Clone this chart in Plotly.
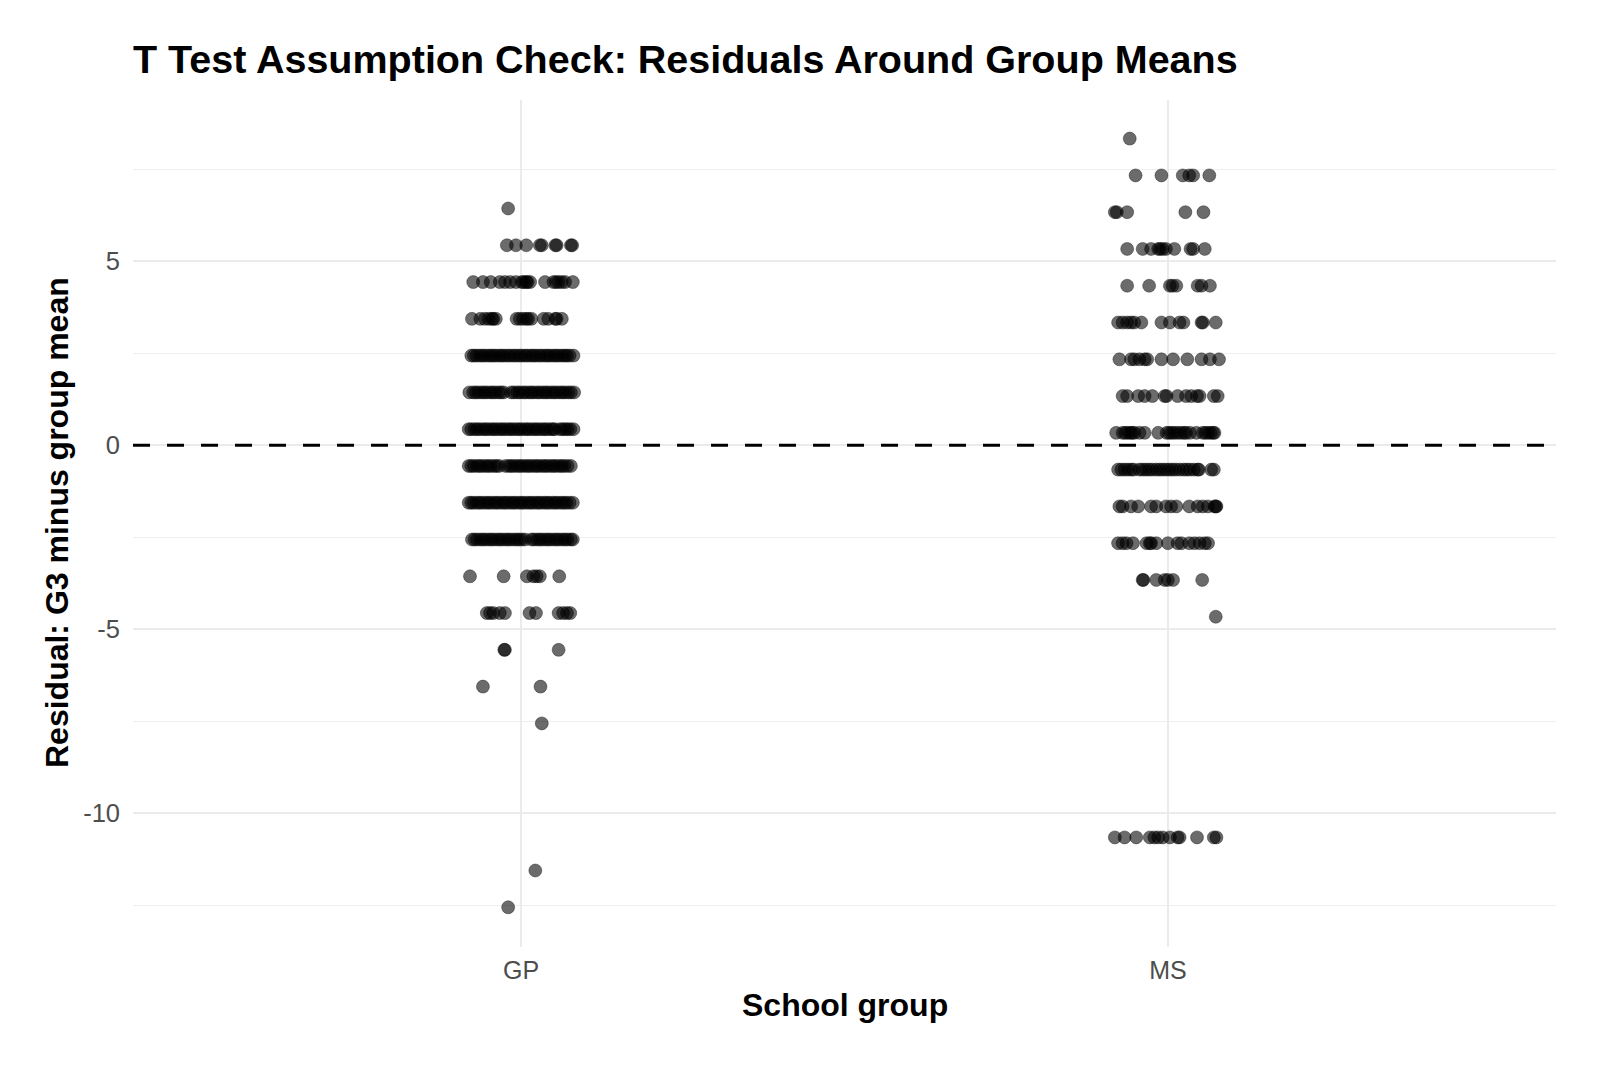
import plotly.graph_objects as go

# ---------------- data ----------------
groups = ["GP", "MS"]
group_pos = [1, 2]

# residual levels (G3 minus group mean) for each group
gp_levels = [6.44, 5.44, 4.44, 3.44, 2.44, 1.44, 0.44, -0.56, -1.56, -2.56,
             -3.56, -4.56, -5.56, -6.56, -7.56, -11.56, -12.56]
# horizontal jitter of each student, per level (category units)
gp_jitter = [
    [-0.020],
    [-0.022, -0.008, 0.008, 0.029, 0.032, 0.053, 0.055, 0.077, 0.079],
    [-0.074, -0.059, -0.047, -0.033, -0.025, -0.017, -0.008, 0.001, 0.004, 0.008,
     0.010, 0.014, 0.037, 0.050, 0.054, 0.058, 0.063, 0.068, 0.080],
    [-0.076, -0.063, -0.056, -0.050, -0.045, -0.043, -0.039, -0.007, -0.002, 0.003,
     0.008, 0.011, 0.016, 0.035, 0.042, 0.053, 0.055, 0.063],
    [-0.077, -0.073, -0.069, -0.064, -0.060, -0.056, -0.051, -0.047, -0.043, -0.039,
     -0.034, -0.030, -0.026, -0.021, -0.017, -0.012, -0.008, -0.003, 0.001, 0.006,
     0.010, 0.015, 0.019, 0.023, 0.028, 0.032, 0.037, 0.041, 0.045, 0.050,
     0.054, 0.058, 0.063, 0.067, 0.071, 0.075, 0.081],
    [-0.080, -0.074, -0.070, -0.066, -0.061, -0.057, -0.053, -0.048, -0.044, -0.040,
     -0.035, -0.031, -0.027, -0.015, -0.011, -0.006, -0.002, 0.003, 0.007, 0.012,
     0.016, 0.020, 0.025, 0.029, 0.034, 0.038, 0.042, 0.047, 0.051, 0.055,
     0.060, 0.064, 0.068, 0.073, 0.077, 0.082],
    [-0.081, -0.077, -0.072, -0.068, -0.064, -0.059, -0.055, -0.051, -0.046, -0.042,
     -0.038, -0.033, -0.029, -0.025, -0.020, -0.016, -0.012, -0.007, -0.003, 0.001,
     0.006, 0.010, 0.014, 0.019, 0.023, 0.027, 0.032, 0.036, 0.040, 0.045,
     0.049, 0.052, 0.060, 0.064, 0.068, 0.072, 0.076, 0.081],
    [-0.081, -0.077, -0.073, -0.068, -0.064, -0.060, -0.055, -0.051, -0.047, -0.042,
     -0.038, -0.034, -0.024, -0.019, -0.015, -0.011, -0.006, -0.002, 0.002, 0.007,
     0.011, 0.015, 0.020, 0.024, 0.028, 0.033, 0.037, 0.041, 0.046, 0.050,
     0.054, 0.059, 0.063, 0.067, 0.072, 0.077],
    [-0.081, -0.077, -0.073, -0.068, -0.064, -0.060, -0.055, -0.051, -0.047, -0.042,
     -0.038, -0.034, -0.029, -0.025, -0.021, -0.016, -0.012, -0.008, -0.003, 0.001,
     0.005, 0.010, 0.014, 0.018, 0.023, 0.027, 0.031, 0.036, 0.040, 0.044,
     0.049, 0.053, 0.057, 0.062, 0.066, 0.070, 0.075, 0.080],
    [-0.076, -0.072, -0.068, -0.063, -0.059, -0.055, -0.050, -0.046, -0.042, -0.037,
     -0.033, -0.029, -0.024, -0.020, -0.016, -0.011, -0.007, -0.003, 0.001, 0.006,
     0.016, 0.020, 0.025, 0.029, 0.033, 0.038, 0.042, 0.046, 0.051, 0.055,
     0.059, 0.064, 0.068, 0.072, 0.077, 0.080],
    [-0.079, -0.027, 0.009, 0.019, 0.024, 0.029, 0.059],
    [-0.053, -0.048, -0.043, -0.033, -0.025, 0.013, 0.023, 0.058, 0.065, 0.071, 0.076],
    [-0.026, -0.025, 0.058],
    [-0.059, 0.030],
    [0.032],
    [0.022],
    [-0.020],
]

ms_levels = [8.34, 7.34, 6.34, 5.34, 4.34, 3.34, 2.34, 1.34, 0.34, -0.66,
             -1.66, -2.66, -3.66, -4.66, -10.66]
ms_jitter = [
    [-0.059],
    [-0.050, -0.010, 0.023, 0.033, 0.039, 0.064],
    [-0.082, -0.079, -0.063, 0.027, 0.055],
    [-0.063, -0.039, -0.026, -0.015, -0.012, -0.008, -0.003, 0.010, 0.035, 0.039, 0.057],
    [-0.063, -0.029, 0.003, 0.007, 0.013, 0.046, 0.052, 0.065],
    [-0.077, -0.070, -0.063, -0.057, -0.052, -0.041, -0.010, 0.003, 0.018, 0.024,
     0.052, 0.054, 0.074],
    [-0.075, -0.057, -0.052, -0.044, -0.036, -0.032, -0.010, 0.008, 0.030, 0.052,
     0.065, 0.079],
    [-0.070, -0.063, -0.046, -0.036, -0.024, -0.005, -0.002, 0.015, 0.028, 0.036,
     0.045, 0.049, 0.071, 0.077],
    [-0.080, -0.070, -0.066, -0.062, -0.058, -0.055, -0.052, -0.044, -0.036, -0.015,
     -0.002, 0.002, 0.006, 0.010, 0.015, 0.020, 0.025, 0.028, 0.034, 0.044,
     0.054, 0.058, 0.062, 0.066, 0.070, 0.072],
    [-0.077, -0.072, -0.067, -0.062, -0.057, -0.053, -0.044, -0.039, -0.034, -0.029,
     -0.024, -0.018, -0.013, -0.008, -0.003, 0.002, 0.007, 0.012, 0.018, 0.024,
     0.029, 0.034, 0.040, 0.046, 0.048, 0.067, 0.071],
    [-0.075, -0.070, -0.057, -0.046, -0.026, -0.018, -0.003, 0.005, 0.013, 0.033,
     0.046, 0.054, 0.062, 0.072, 0.074, 0.075],
    [-0.077, -0.070, -0.064, -0.054, -0.033, -0.028, -0.026, -0.018, 0.000, 0.015,
     0.021, 0.033, 0.041, 0.049, 0.057, 0.062],
    [-0.039, -0.038, -0.018, -0.005, 0.000, 0.008, 0.053],
    [0.074],
    [-0.082, -0.067, -0.049, -0.028, -0.021, -0.015, -0.008, 0.003, 0.015, 0.018,
     0.045, 0.071, 0.075],
]

y_major_ticks = [-10, -5, 0, 5]
y_minor_ticks = [-12.5, -7.5, -2.5, 2.5, 7.5]

title_text = "T Test Assumption Check: Residuals Around Group Means"
x_title = "School group"
y_title = "Residual: G3 minus group mean"

# ---------------- build points ----------------
xs, ys = [], []
for pos, levels, jit in [(group_pos[0], gp_levels, gp_jitter),
                         (group_pos[1], ms_levels, ms_jitter)]:
    for lev, offs in zip(levels, jit):
        for o in offs:
            xs.append(pos + o)
            ys.append(lev)

FONT = "Liberation Sans, Arial, Helvetica, sans-serif"

fig = go.Figure()
fig.add_trace(go.Scatter(
    x=xs, y=ys, mode="markers",
    marker=dict(size=13, color="rgba(0,0,0,0.58)",
                line=dict(color="rgba(0,0,0,0.35)", width=1)),
    hoverinfo="skip", showlegend=False,
))

fig.add_shape(type="line", xref="paper", x0=0, x1=1, yref="y", y0=0, y1=0,
              line=dict(color="black", width=3, dash="17px,17px"), layer="above")

fig.update_layout(
    width=1600, height=1067,
    margin=dict(l=133, r=44, t=100, b=120),
    paper_bgcolor="white", plot_bgcolor="white",
    font=dict(family=FONT, color="black"),
    title=dict(text="<b>" + title_text + "</b>", font=dict(size=39.5, color="black", family=FONT),
               xref="paper", x=0, xanchor="left",
               yref="container", y=1 - 59 / 1067, yanchor="middle"),
    xaxis=dict(range=[0.4, 2.6], tickmode="array", tickvals=group_pos, ticktext=groups,
               showgrid=True, gridcolor="#EBEBEB", gridwidth=2, zeroline=False,
               showline=False, ticks="", tickfont=dict(size=25, color="#4D4D4D"),
               ticklabelstandoff=6, fixedrange=True),
    yaxis=dict(range=[-13.64, 9.39], tickmode="array", tickvals=y_major_ticks,
               ticktext=[str(v) for v in y_major_ticks],
               showgrid=True, gridcolor="#EBEBEB", gridwidth=2, zeroline=False,
               showline=False, ticks="", tickfont=dict(size=25.5, color="#4D4D4D"),
               ticklabelstandoff=12,
               minor=dict(tickvals=y_minor_ticks, showgrid=True, gridcolor="#EFEFEF",
                          gridwidth=1, ticks=""),
               fixedrange=True),
    annotations=[
        dict(text="<b>" + x_title + "</b>", xref="paper", yref="paper", x=0.5,
             y=-(1005 - 947) / 847, xanchor="center", yanchor="middle", showarrow=False,
             font=dict(size=32, color="black", family=FONT)),
        dict(text="<b>" + y_title + "</b>", xref="paper", yref="paper",
             x=(57 - 133) / 1423, y=(947 - 523) / 847, xanchor="center", yanchor="middle",
             textangle=-90, showarrow=False,
             font=dict(size=32, color="black", family=FONT)),
    ],
)

fig.write_html("out.html")
